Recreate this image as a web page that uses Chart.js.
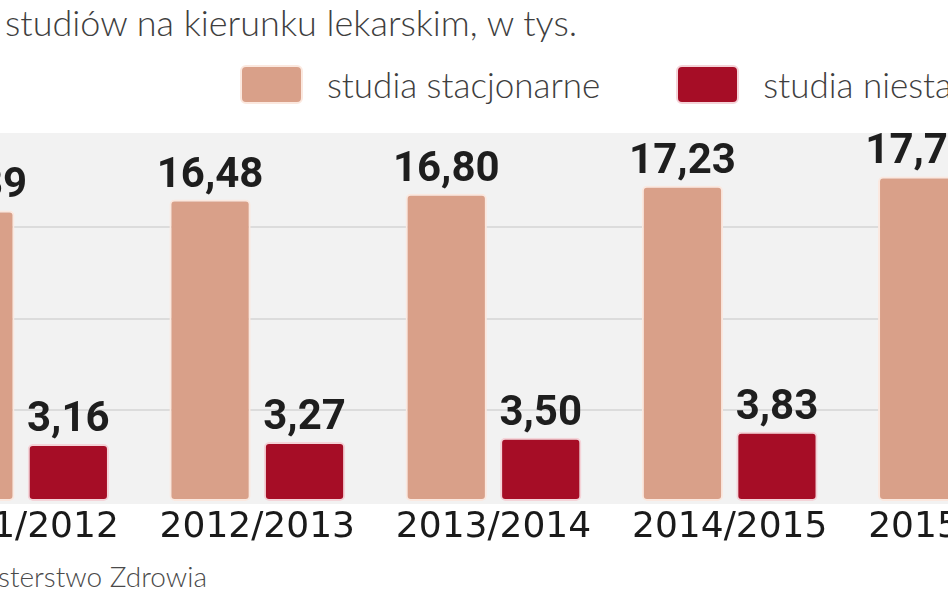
<!DOCTYPE html>
<html lang="pl">
<head>
<meta charset="utf-8">
<script src="https://cdn.jsdelivr.net/npm/chart.js@4.4.1/dist/chart.umd.min.js"></script>
<style>
  html, body { margin: 0; padding: 0; background: #fff; }
  body { width: 948px; height: 593px; overflow: hidden; position: relative; }
  .title { position: absolute; left: 5px; top: 0; font: 300 36px Lato, sans-serif; color: #3e3e3e; white-space: nowrap; }
  .legend { position: absolute; left: 240px; top: 63px; display: flex; align-items: center; white-space: nowrap; }
  .legend .item { display: flex; align-items: center; margin-right: 76px; }
  .legend .box { width: 59px; height: 35px; border: 2px solid; border-radius: 6px; margin-right: 24px; }
  .legend .txt { font: 300 35px Lato, sans-serif; color: #3e3e3e; }
  .source { position: absolute; right: 741px; top: 559px; font: 300 28px Lato, sans-serif; color: #4a4a4a; white-space: nowrap; }
  .wrap { position: absolute; left: -200px; top: 0; width: 1400px; height: 593px; }
</style>
</head>
<body>
<div class="title">studiów na kierunku lekarskim, w tys.</div>
<div class="legend" id="legend"></div>
<div class="source">Źródło: Ministerstwo Zdrowia</div>
<div class="wrap"><canvas id="studentsChart"></canvas></div>
<script>
    "use strict";

    const years = ["2011/2012", "2012/2013", "2013/2014", "2014/2015", "2015/2016"];
    const fullTime = [15.89, 16.48, 16.80, 17.23, 17.74];
    const partTime = [3.16, 3.27, 3.50, 3.83, 4.05];
    const seriesNames = ["studia stacjonarne", "studia niestacjonarne"];
    const seriesColors = ["#d9a089", "#a60d26"];
    const seriesBorders = ["#fbe8df", "#f4d3d8"];

    // legend from the series arrays
    const legend = document.getElementById("legend");
    seriesNames.forEach((name, i) => {
        const item = document.createElement("div");
        item.className = "item";
        item.innerHTML = `<div class="box" style="background:${seriesColors[i]};border-color:${seriesBorders[i]}"></div><span class="txt">${name}</span>`;
        legend.appendChild(item);
    });

    const panelBg = {
        id: "panelBg",
        beforeDraw(chart) {
            const { ctx, chartArea } = chart;
            ctx.save();
            ctx.fillStyle = "#f2f2f2";
            ctx.fillRect(0, chartArea.top - 2, chart.width, chartArea.bottom - chartArea.top + 4);
            ctx.restore();
        },
    };

    const valueLabels = {
        id: "valueLabels",
        afterDatasetsDraw(chart) {
            const ctx = chart.ctx;
            ctx.save();
            ctx.font = "bold 42px Roboto, 'DejaVu Sans Condensed', sans-serif";
            ctx.fillStyle = "#1e1e1e";
            ctx.textAlign = "center";
            ctx.textBaseline = "alphabetic";
            chart.data.datasets.forEach((ds, i) => {
                chart.getDatasetMeta(i).data.forEach((bar, j) => {
                    const txt = ds.data[j].toFixed(2).replace(".", ",");
                    ctx.fillText(txt, bar.x, bar.y - 13);
                });
            });
            ctx.restore();
        },
    };

    const ctx = document.getElementById("studentsChart").getContext("2d");
    new Chart(ctx, {
        type: "bar",
        data: {
            labels: years,
            datasets: [
                {
                    label: seriesNames[0],
                    data: fullTime,
                    backgroundColor: seriesColors[0],
                    borderColor: seriesBorders[0],
                    borderWidth: 2,
                    borderRadius: 5,
                    borderSkipped: false,
                },
                {
                    label: seriesNames[1],
                    data: partTime,
                    backgroundColor: seriesColors[1],
                    borderColor: seriesBorders[1],
                    borderWidth: 2,
                    borderRadius: 5,
                    borderSkipped: false,
                },
            ],
        },
        options: {
            responsive: true,
            maintainAspectRatio: false,
            animation: false,
            categoryPercentage: 0.8,
            barPercentage: 0.86,
            layout: { padding: { left: 103, right: 116, top: 135, bottom: 47 } },
            plugins: {
                legend: { display: false },
                tooltip: { enabled: false },
            },
            scales: {
                x: {
                    grid: { display: false },
                    border: { display: false },
                    ticks: {
                        padding: 0,
                        color: "#1a1a1a",
                        font: { family: "'DejaVu Sans'", size: 36, lineHeight: 1 },
                    },
                },
                y: {
                    min: 0,
                    max: 20,
                    ticks: { display: false, stepSize: 5 },
                    border: { display: false },
                    grid: {
                        drawTicks: false,
                        lineWidth: 2,
                        color: (c) => (c.tick.value === 0 || c.tick.value === 20 ? "rgba(0,0,0,0)" : "#dcdcdc"),
                    },
                },
            },
        },
        plugins: [panelBg, valueLabels],
    });
</script>
</body>
</html>
